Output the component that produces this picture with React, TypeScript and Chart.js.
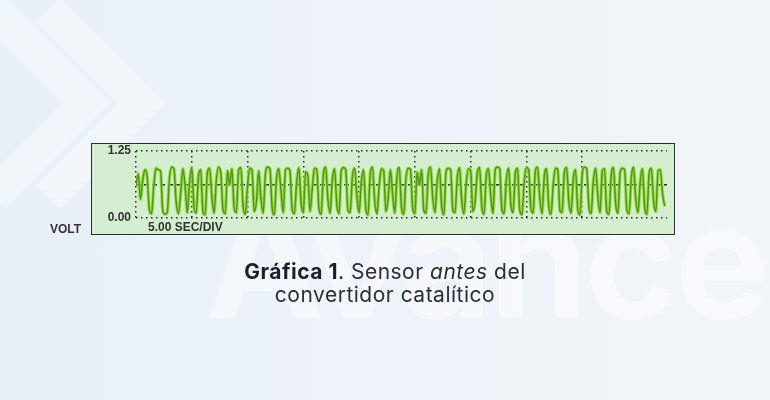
import React, { useEffect, useRef } from "react";
import { Chart, registerables } from "chart.js";

Chart.register(...registerables);

// Oscilloscope trace of the O2 sensor (volts), sampled every SAMPLE_SEC seconds
const SAMPLE_SEC = 0.2;
const volts: number[] = [
  0.60, 0.82, 0.35, 0.70, 0.90, 0.78, 0.15, 0.08, 0.62, 0.93,
  0.90, 0.88, 0.14, 0.07, 0.10, 0.75, 0.95, 0.92, 0.30, 0.08,
  0.45, 0.92, 0.60, 0.10, 0.65, 0.94, 0.20, 0.09, 0.78, 0.90,
  0.12, 0.06, 0.85, 0.93, 0.40, 0.09, 0.70, 0.95, 0.85, 0.15,
  0.08, 0.88, 0.62, 0.92, 0.18, 0.10, 0.90, 0.94, 0.22, 0.07,
  0.60, 0.93, 0.90, 0.12, 0.30, 0.88, 0.35, 0.09, 0.82, 0.95,
  0.92, 0.20, 0.06, 0.75, 0.92, 0.50, 0.10, 0.90, 0.93, 0.88,
  0.15, 0.08, 0.66, 0.94, 0.28, 0.10, 0.86, 0.80, 0.12, 0.55,
  0.93, 0.91, 0.18, 0.07, 0.82, 0.95, 0.35, 0.09, 0.72, 0.92,
  0.25, 0.08, 0.88, 0.94, 0.90, 0.14, 0.10, 0.78, 0.93, 0.40,
  0.10, 0.68, 0.90, 0.16, 0.06, 0.84, 0.95, 0.30, 0.08, 0.60,
  0.92, 0.88, 0.12, 0.35, 0.90, 0.45, 0.09, 0.80, 0.94, 0.20,
  0.07, 0.74, 0.93, 0.91, 0.18, 0.08, 0.86, 0.62, 0.90, 0.14,
  0.09, 0.82, 0.95, 0.38, 0.10, 0.70, 0.92, 0.22, 0.06, 0.88,
  0.93, 0.90, 0.15, 0.10, 0.76, 0.94, 0.32, 0.08, 0.65, 0.92,
  0.88, 0.12, 0.30, 0.86, 0.94, 0.20, 0.07, 0.80, 0.92, 0.42,
  0.09, 0.90, 0.95, 0.92, 0.16, 0.08, 0.72, 0.93, 0.26, 0.10,
  0.84, 0.93, 0.14, 0.06, 0.68, 0.94, 0.90, 0.18, 0.09, 0.88,
  0.95, 0.36, 0.08, 0.78, 0.92, 0.22, 0.07, 0.62, 0.93, 0.91,
  0.14, 0.10, 0.86, 0.94, 0.30, 0.09, 0.74, 0.90, 0.16, 0.06,
  0.82, 0.95, 0.92, 0.20, 0.08, 0.70, 0.93, 0.40, 0.10, 0.88,
  0.92, 0.12, 0.07, 0.80, 0.94, 0.26, 0.09, 0.85, 0.93, 0.90,
  0.15, 0.08, 0.76, 0.95, 0.35, 0.10, 0.68, 0.92, 0.20, 0.07,
  0.84, 0.93, 0.30, 0.12, 0.88, 0.90, 0.45, 0.22,
];

const Y_MIN = 0;
const Y_MAX = 1.25;
const Y_MID = 0.625;
const X_MAX_SEC = 47.6;
const SEC_PER_DIV = 5;

const Y_LABEL = "VOLT";
const X_LABEL = "5.00 SEC/DIV";

export default function App() {
  const canvasRef = useRef<HTMLCanvasElement | null>(null);

  useEffect(() => {
    if (!canvasRef.current) return;
    const points = volts.map((v, i) => ({ x: i * SAMPLE_SEC, y: v }));
    const chart = new Chart(canvasRef.current, {
      type: "line",
      data: {
        datasets: [
          {
            // dark core of the trace (drawn on top)
            data: points,
            borderColor: "#4a991b",
            borderWidth: 1.5,
            pointRadius: 0,
            cubicInterpolationMode: "monotone",
            fill: false,
            order: 0,
          },
          {
            // bright halo of the trace
            data: points,
            borderColor: "rgba(150, 218, 38, 0.85)",
            borderWidth: 3.4,
            pointRadius: 0,
            cubicInterpolationMode: "monotone",
            fill: false,
            order: 1,
          },
        ],
      },
      options: {
        animation: false,
        responsive: false,
        events: [],
        layout: { padding: { left: 102, right: 103, top: 151, bottom: 182 } },
        plugins: { legend: { display: false }, tooltip: { enabled: false } },
        scales: {
          x: {
            type: "linear",
            min: 0,
            max: X_MAX_SEC,
            ticks: { display: false, stepSize: SEC_PER_DIV },
            afterBuildTicks: (s: any) => {
              s.ticks = s.ticks.filter((t: any) => Math.abs(t.value % SEC_PER_DIV) < 1e-6);
            },
            afterFit: (s: any) => {
              s.height = 0;
            },
            grid: { color: "#2a2a2a", lineWidth: 1.5, drawTicks: false },
            border: { display: false, dash: [1.5, 3.5] },
          },
          y: {
            type: "linear",
            min: Y_MIN,
            max: Y_MAX,
            ticks: {
              stepSize: Y_MID,
              padding: 5,
              color: "#333",
              font: { family: "Liberation Sans, Arial, sans-serif", size: 12, weight: "bold" },
              callback: (v: any) => (Math.abs(v - Y_MID) < 1e-6 ? "" : Number(v).toFixed(2)),
            },
            afterFit: (s: any) => {
              s.width = 34;
            },
            grid: { color: "#2a2a2a", lineWidth: 1.5, drawTicks: false },
            border: {
              display: false,
              dash: (ctx: any) => (ctx.tick && Math.abs(ctx.tick.value - Y_MID) < 1e-6 ? [5, 3] : [1.5, 3.5]),
            },
          },
        },
      },
    });
    return () => chart.destroy();
  }, []);

  const labelFont: React.CSSProperties = {
    position: "absolute",
    fontFamily: "Liberation Sans, Arial, sans-serif",
    fontWeight: "bold",
    fontSize: 12,
    color: "#333",
    lineHeight: "13px",
    whiteSpace: "nowrap",
  };

  const chevron = (left: number): React.CSSProperties => ({
    position: "absolute",
    left,
    top: 28,
    width: 150,
    height: 150,
    boxSizing: "border-box",
    borderTop: "34px solid rgba(255,255,255,0.35)",
    borderRight: "34px solid rgba(255,255,255,0.35)",
    transform: "rotate(45deg)",
  });

  return (
    <div
      style={{
        position: "absolute",
        left: 0,
        top: 0,
        width: 770,
        height: 400,
        overflow: "hidden",
        background: "linear-gradient(90deg, #e8f0f8 0%, #eef3f9 50%, #f2f5f9 100%)",
      }}
    >
      {/* faint watermark */}
      <div style={chevron(-70)} />
      <div style={chevron(-15)} />
      <div
        style={{
          position: "absolute",
          left: 205,
          top: 180,
          fontFamily: "Inter, sans-serif",
          fontWeight: 700,
          fontSize: 160,
          lineHeight: "160px",
          color: "rgba(255,255,255,0.45)",
          letterSpacing: -4,
          whiteSpace: "nowrap",
        }}
      >
        Avance
      </div>

      {/* scope frame */}
      <div
        style={{
          position: "absolute",
          left: 91,
          top: 143,
          width: 584,
          height: 92,
          boxSizing: "border-box",
          border: "1.5px solid #2e2e2e",
          background: "#d5edd1",
        }}
      />
      <canvas ref={canvasRef} width={770} height={400} style={{ position: "absolute", left: 0, top: 0 }} />
      <div style={{ ...labelFont, left: 50, top: 223 }}>{Y_LABEL}</div>
      <div style={{ ...labelFont, left: 148, top: 221 }}>{X_LABEL}</div>

      {/* caption */}
      <div
        style={{
          position: "absolute",
          left: 0,
          top: 260,
          width: 770,
          textAlign: "center",
          fontFamily: "Inter, sans-serif",
          fontSize: 21,
          lineHeight: "23px",
          letterSpacing: 0.5,
          color: "#2b2e3a",
        }}
      >
        <div>
          <span style={{ fontWeight: 700, color: "#1b1e2c" }}>Gráfica 1</span>. Sensor <i>antes</i> del
        </div>
        <div>convertidor catalítico</div>
      </div>
    </div>
  );
}
